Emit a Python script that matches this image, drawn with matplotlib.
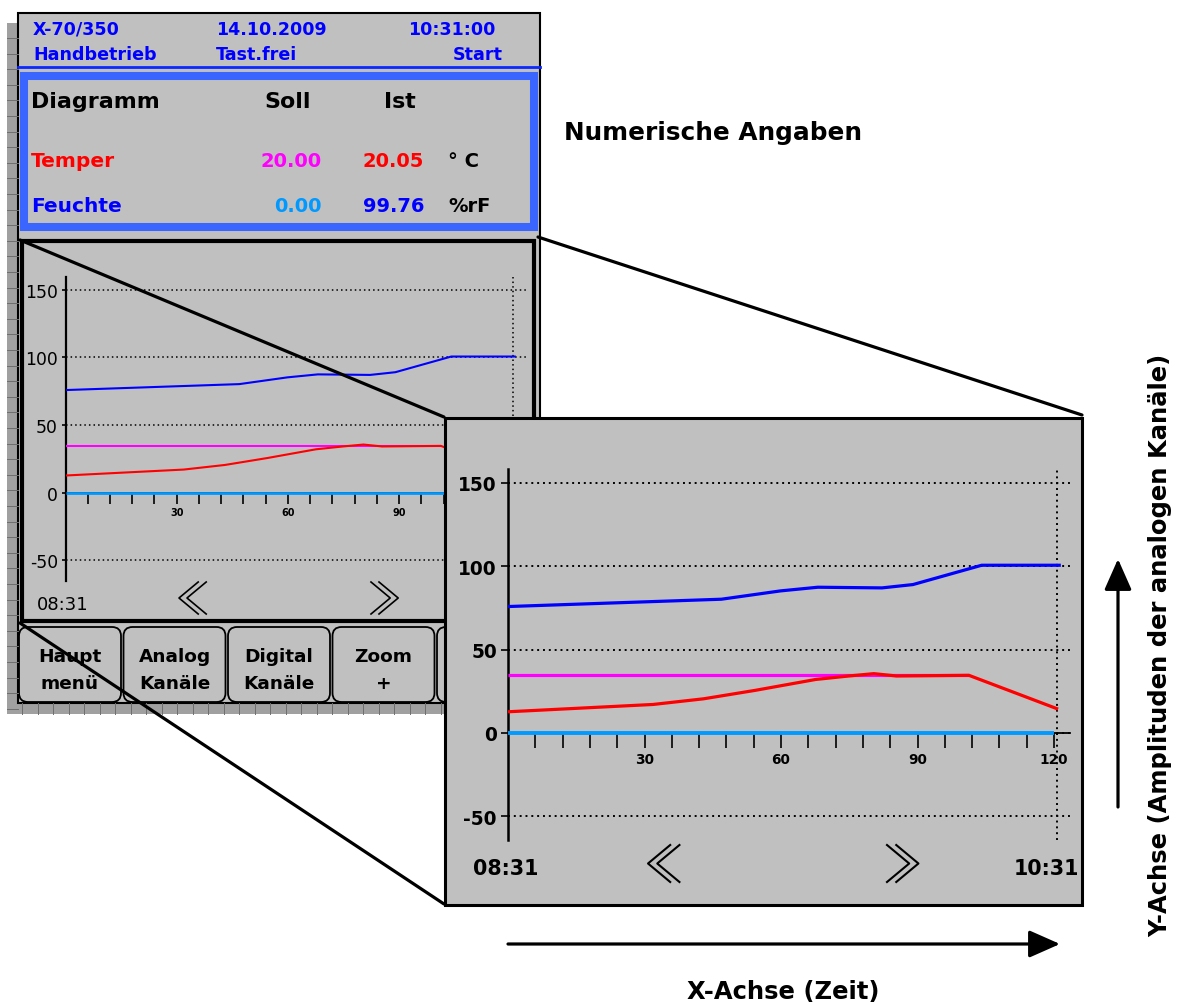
import numpy as np
import matplotlib
matplotlib.use('Agg')
import matplotlib.pyplot as plt
from matplotlib.patches import Rectangle, FancyBboxPatch

# Werte, x in Minuten (0 = 08:31, 120 = 10:31)
feuchte_t = [0, 46.9, 59.9, 68.1, 82.2, 89.0, 104.1, 121.5]
feuchte_ist = [75.8, 80.2, 85.2, 87.4, 87.0, 89.0, 100.6, 100.6]
temper_t = [0, 31.9, 43.0, 54.4, 67.6, 74.9, 80.4, 85.4, 101.3, 120.9]
temper_ist = [12.6, 17.0, 20.4, 25.5, 32.0, 34.1, 35.5, 34.1, 34.5, 14.2]
temper_soll_t = [0, 101.3]
temper_soll = [34.5, 34.5]
feuchte_soll_t = [0, 120]
feuchte_soll = [0, 0]

y_ticks = [-50, 0, 50, 100, 150]
x_ticks = [30, 60, 90, 120]
x_minor = list(range(6, 121, 6))

header_top = ["X-70/350", "14.10.2009", "10:31:00"]
header_bottom = ["Handbetrieb", "Tast.frei", "Start"]
kanal_namen = ["Temper", "Feuchte"]
soll_werte = ["20.00", "0.00"]
ist_werte = ["20.05", "99.76"]
einheiten = ["° C", "%rF"]
buttons = [("Haupt", "menü"), ("Analog", "Kanäle"), ("Digital", "Kanäle"), ("Zoom", "+"), ("", "")]

GRAY = '#c0c0c0'
BLUE = '#0000ff'
RED = '#ff0000'
MAG = '#ff00ff'
LBLUE = '#0099ff'
FRAMEBLUE = '#3a66ff'

W, H = 1178, 1003
fig = plt.figure(figsize=(W / 100, H / 100), dpi=100)
fig.patch.set_facecolor('white')


def canvas(z):
    ax = fig.add_axes([0, 0, 1, 1], zorder=z)
    ax.set_xlim(0, W)
    ax.set_ylim(H, 0)
    ax.axis('off')
    ax.patch.set_alpha(0)
    return ax


def px_axes(x0, y0, x1, y1, z):
    return fig.add_axes([x0 / W, 1 - y1 / H, (x1 - x0) / W, (y1 - y0) / H], zorder=z)


def txt(ax, x, yc, s, size, ha='left', color='k', weight='bold'):
    # yc = visual middle of the capitals, in pixels
    ax.text(x, yc + 0.729 * size * 100 / 72 / 2, s, fontsize=size, ha=ha, va='baseline',
            color=color, fontweight=weight)


def chevrons(ax, x, y, h, side, lw):
    w, off = 0.6 * h, 0.25 * h
    for k in (0, 1):
        a = x + k * off
        if side == 'left':
            ax.plot([a + w, a, a + w], [y, y + h / 2, y + h], color='k', lw=lw)
        else:
            ax.plot([a, a + w, a], [y, y + h / 2, y + h], color='k', lw=lw)


def chart(ax, xmax, ylim, lw, ylab_size, ylab_weight, xlab_size, xlen, xpad, ylen, ypad, spine_lw, grid_lw):
    ax.set_xlim(0, xmax)
    ax.set_ylim(*ylim)
    ax.patch.set_alpha(0)
    ax.spines['top'].set_visible(False)
    ax.spines['right'].set_visible(False)
    ax.spines['bottom'].set_position(('data', 0))
    ax.spines['bottom'].set_linewidth(1.3)
    ax.spines['left'].set_linewidth(spine_lw)
    ax.set_yticks(y_ticks, labels=[str(v) for v in y_ticks], fontsize=ylab_size, fontweight=ylab_weight)
    ax.set_xticks(x_ticks, labels=[str(v) for v in x_ticks], fontsize=xlab_size, fontweight='bold')
    ax.set_xticks(x_minor, minor=True)
    ax.tick_params(axis='x', which='both', direction='out', length=xlen, width=1.2, pad=xpad)
    ax.tick_params(axis='y', length=ylen, width=1.2, pad=ypad)
    ax.yaxis.grid(True, color='k', linestyle=(0, (1, 2)), lw=grid_lw)
    ax.axvline(120.7, color='k', linestyle=(0, (1, 2)), lw=grid_lw)
    ax.plot(feuchte_soll_t, feuchte_soll, color=LBLUE, lw=lw + 0.5, zorder=3, solid_capstyle='butt')
    ax.plot(temper_soll_t, temper_soll, color=MAG, lw=lw, zorder=3, solid_capstyle='butt')
    ax.plot(temper_t, temper_ist, color=RED, lw=lw, zorder=4, solid_capstyle='butt')
    ax.plot(feuchte_t, feuchte_ist, color=BLUE, lw=lw, zorder=4, solid_capstyle='butt')


# ---------- Hintergrund / Geraet ----------
bg = canvas(0)
bg.add_patch(Rectangle((7, 24), 11, 691, fc='#a0a0a0', ec='none'))
bg.add_patch(Rectangle((7, 703), 438, 12, fc='#a0a0a0', ec='none'))
for y in np.arange(39, 715, 15.6):
    bg.plot([7, 18], [y, y], color='#6e6e6e', lw=0.7)
for x in np.arange(22, 445, 15.5):
    bg.plot([x, x], [704, 715], color='#6e6e6e', lw=0.7)
bg.add_patch(Rectangle((18, 14), 522, 690, fc=GRAY, ec='k', lw=1.5))
bg.plot([18, 540], [68, 68], color='#0a28ff', lw=2)

for s, x in zip(header_top, [33, 216, 408]):
    txt(bg, x, 28.5, s, 12.6, color=BLUE)
for s, x, ha in zip(header_bottom, [33, 216, 503], ['left', 'left', 'right']):
    txt(bg, x, 53.5, s, 12.6, ha=ha, color=BLUE)

bg.add_patch(Rectangle((24.3, 76.8), 510, 151.3, fc='none', ec=FRAMEBLUE, lw=5.8))
txt(bg, 31, 100, "Diagramm", 15.9)
txt(bg, 264, 100, "Soll", 15.9)
txt(bg, 384, 100, "Ist", 15.9)
for i, yc in enumerate([160, 205]):
    c = [RED, BLUE][i]
    txt(bg, 31, yc, kanal_namen[i], 14.5, color=c)
    txt(bg, 322, yc, soll_werte[i], 14, ha='right', color=[MAG, LBLUE][i])
    txt(bg, 424, yc, ist_werte[i], 14, ha='right', color=c)
    txt(bg, 448, yc, einheiten[i], 14)

txt(bg, 564, 131, "Numerische Angaben", 17.8)

bg.add_patch(Rectangle((21.6, 242), 512.4, 380, fc='none', ec='k', lw=3))
txt(bg, 37, 603, "08:31", 13, weight='normal')
chevrons(bg, 179, 583, 32, 'left', 1.2)
chevrons(bg, 371, 583, 32, 'right', 1.2)

for i, (a, b) in enumerate(buttons):
    x0 = 19 + i * 104.5
    bg.add_patch(FancyBboxPatch((x0, 628), 102, 75, boxstyle='round,pad=0,rounding_size=9',
                                fc=GRAY, ec='k', lw=1.3))
    txt(bg, x0 + 51, 655, a, 13.3, ha='center')
    txt(bg, x0 + 51, 682, b, 13.3, ha='center')

# ---------- kleines Diagramm ----------
ax_s = px_axes(65.5, 278.3, 65.5 + 124.4 * 3.706, 581.7, 1)
chart(ax_s, 124.4, (-65.2, 159.2), 1.5, 12.4, 'normal', 7, 8, 2.5, 3, 2.5, 1.6, 1.1)

# ---------- Lupenlinien und grosser Rahmen ----------
ov = canvas(2)
for (x0, y0), (x1, y1) in [((20, 241), (444, 418)), ((538, 238), (1082, 416)), ((20, 624), (444, 905))]:
    ov.plot([x0, x1], [y0, y1], color='k', lw=2.3, solid_capstyle='round')
ov.add_patch(Rectangle((444.5, 418.5), 637, 487, fc=GRAY, ec='k', lw=2.2))
txt(ov, 473, 867, "08:31", 14.9)
txt(ov, 1079, 867, "10:31", 14.9, ha='right')
chevrons(ov, 648, 846, 37, 'left', 1.5)
chevrons(ov, 887, 846, 37, 'right', 1.5)

ov.annotate('', xy=(1060, 945), xytext=(508, 945),
            arrowprops=dict(arrowstyle='-|>,head_length=0.95,head_width=0.42', lw=2.3, color='k',
                            shrinkA=0, shrinkB=0, mutation_scale=20))
ov.annotate('', xy=(1118, 560), xytext=(1118, 808),
            arrowprops=dict(arrowstyle='-|>,head_length=0.95,head_width=0.42', lw=2.3, color='k',
                            shrinkA=0, shrinkB=0, mutation_scale=20))
txt(ov, 783, 990, "X-Achse (Zeit)", 17.5, ha='center')
ov.text(1160, 645, "Y-Achse (Amplituden der analogen Kanäle)", fontsize=17.5, fontweight='bold',
        rotation=90, ha='center', va='center')

# ---------- grosses Diagramm ----------
ax_b = px_axes(508, 470, 508 + 123.5 * 4.55, 841, 3)
chart(ax_b, 123.5, (-64.4, 158.4), 2.3, 13.4, 'bold', 9.8, 10.8, 3, 5, 3, 1.8, 1.4)

fig.savefig('out.png', dpi=100)
